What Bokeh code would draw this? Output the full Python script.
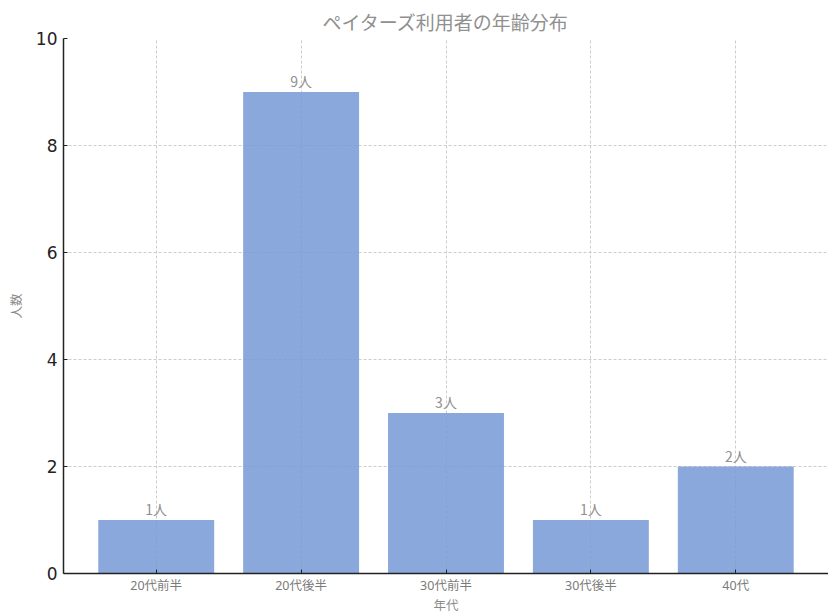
from bokeh.plotting import figure
from bokeh.models import ColumnDataSource, FixedTicker, Range1d
from bokeh.core.properties import value
from bokeh.embed import file_html
from bokeh.resources import INLINE

categories = ["20代前半", "20代後半", "30代前半", "30代後半", "40代"]
counts = [1, 9, 3, 1, 2]
bar_labels = [f"{c}人" for c in counts]
y_ticks = [0, 2, 4, 6, 8, 10]

JP = "Noto Sans CJK JP"
JP_LOW = "'Noto Sans', 'Noto Sans CJK JP'"

xs = list(range(len(categories)))
src = ColumnDataSource(dict(x=xs, top=counts, label=bar_labels))

p = figure(width=828, height=616, output_backend="svg", toolbar_location=None,
           x_range=Range1d(-0.64, 4.64), y_range=Range1d(0, 10),
           min_border_left=63, min_border_right=0, min_border_top=38, min_border_bottom=41)

p.title.text = "ペイターズ利用者の年齢分布"
p.title.align = "center"
p.title.text_font = JP
p.title.text_font_size = "19px"
p.title.text_font_style = "normal"
p.title.text_color = "#909090"
p.title.offset = 0
p.title.standoff = 8

p.outline_line_color = None

p.vbar(x="x", top="top", width=0.8, source=src, fill_color="#7599d5", fill_alpha=0.85, line_color=None)

p.text(x="x", y="top", text="label", source=src, text_font=value(JP), text_font_size="14px",
       text_color="#909090", text_align="center", text_baseline="bottom", y_offset=-1)

for ax in (p.xaxis, p.yaxis):
    ax.axis_line_color = "#222222"
    ax.axis_line_width = 1.5
    ax.major_tick_in = 4
    ax.major_tick_out = 0
    ax.major_tick_line_color = "#222222"
    ax.minor_tick_line_color = None

p.xaxis.ticker = FixedTicker(ticks=xs)
p.xaxis.major_label_overrides = {i: c for i, c in enumerate(categories)}
p.xaxis.major_label_text_font = JP_LOW
p.xaxis.major_label_text_font_size = "12.5px"
p.xaxis.major_label_text_color = "#7a7a7a"
p.xaxis.major_label_standoff = 3
p.xaxis.axis_label = "年代"
p.xaxis.axis_label_text_font = JP_LOW
p.xaxis.axis_label_text_font_size = "12.5px"
p.xaxis.axis_label_text_font_style = "normal"
p.xaxis.axis_label_text_color = "#8a8a8a"
p.xaxis.axis_label_standoff = 0

p.yaxis.ticker = FixedTicker(ticks=y_ticks)
p.yaxis.major_label_text_font = "DejaVu Sans"
p.yaxis.major_label_text_font_size = "17px"
p.yaxis.major_label_text_color = "#222222"
p.yaxis.major_label_standoff = 6
p.yaxis.axis_label = "人数"
p.yaxis.axis_label_text_font = JP
p.yaxis.axis_label_text_font_size = "12.5px"
p.yaxis.axis_label_text_font_style = "normal"
p.yaxis.axis_label_text_color = "#8a8a8a"
p.yaxis.axis_label_standoff = 8

for g in (p.xgrid, p.ygrid):
    g.grid_line_color = "#cccccc"
    g.grid_line_dash = "3 2"
    g.grid_line_width = 1

open("out.html", "w").write(file_html(p, INLINE))
